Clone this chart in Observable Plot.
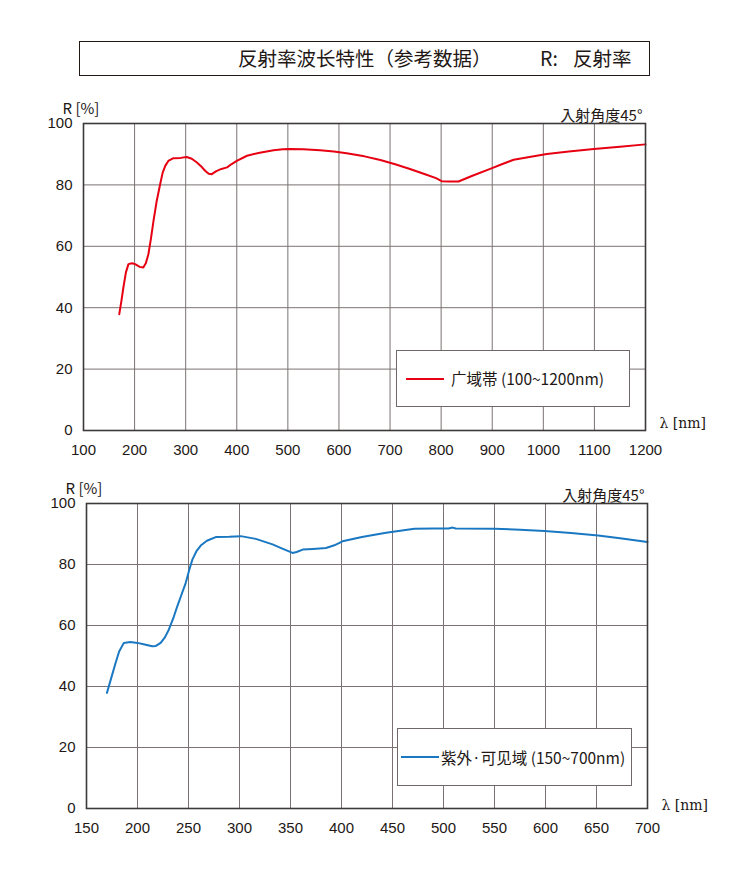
<!DOCTYPE html>
<html>
<head>
<meta charset="utf-8">
<script src="https://cdn.jsdelivr.net/npm/d3@7"></script>
<script src="https://cdn.jsdelivr.net/npm/@observablehq/plot@0.6"></script>
<style>
  body { margin: 0; background: #fff; }
  #wrap { position: relative; width: 750px; height: 877px; color: #231815;
          font-family: "Noto Sans CJK JP", "Noto Sans", sans-serif; }
  .tbox { position: absolute; left: 79px; top: 41px; width: 571px; height: 35px;
          box-sizing: border-box; border: 1.6px solid #231815; }
  .ttl { position: absolute; font-size: 19.5px; line-height: 20px; white-space: nowrap; }
  .chart { position: absolute; left: 0; }
  .legend { position: absolute; box-sizing: border-box; border: 1px solid #6e6868; background: #fff; }
  .legend .sw { position: absolute; height: 2px; }
  .legend .lt { position: absolute; font-size: 15.5px; line-height: 18px; white-space: nowrap; }
</style>
</head>
<body>
<div id="wrap">
  <div class="tbox"></div>
  <div class="ttl" style="left:238px; top:48px;">反射率波长特性（参考数据）</div>
  <div class="ttl" style="left:540px; top:48px;">R:</div>
  <div class="ttl" style="left:573px; top:48px;">反射率</div>
  <div id="c1" class="chart" style="top:85px;"></div>
  <div id="c2" class="chart" style="top:460px;"></div>
  <div class="legend" style="left:396px; top:350px; width:234px; height:57px;">
    <div class="sw" style="left:9px; width:38px; top:26.5px; background:#e60012;"></div>
    <div class="lt" style="left:54px; top:18px;">广域帯 (100~1200nm)</div>
  </div>
  <div class="legend" style="left:397px; top:728px; width:235px; height:58px;">
    <div class="sw" style="left:3px; width:38px; top:27px; background:#1a78c2;"></div>
    <div class="lt" style="left:43px; top:19px;">紫外·可见域 (150~700nm)</div>
  </div>
</div>
<script>
// ---- data ----
const yTicks = [0, 20, 40, 60, 80, 100];
const xTicksWide = [100, 200, 300, 400, 500, 600, 700, 800, 900, 1000, 1100, 1200];
const xTicksUV = [150, 200, 250, 300, 350, 400, 450, 500, 550, 600, 650, 700];

// 广域帯 (100~1200nm)
const wideNm = [170, 174, 178, 183, 188, 195, 201, 210, 217, 222, 227, 232, 237, 243, 250, 255, 260, 266, 276, 290,
  302, 312, 322, 330, 338, 345, 351, 360, 370, 381, 390, 400, 420, 445, 472, 490, 504, 530, 563, 590,
  615, 650, 681, 710, 739, 770, 790, 801, 815, 834, 860, 896, 920, 942, 970, 1007, 1050, 1099, 1150, 1200];
const wideR = [37.9, 42, 46.5, 51.5, 54.2, 54.5, 54.2, 53.3, 53.1, 54.5, 57.4, 62.5, 68.3, 74.5, 80.2, 84, 86.2, 87.8, 88.7, 88.8,
  89.1, 88.5, 87.3, 86.1, 84.6, 83.6, 83.5, 84.5, 85.2, 85.7, 86.8, 87.8, 89.5, 90.5, 91.3, 91.6, 91.7, 91.6, 91.3, 90.9,
  90.3, 89.3, 88.1, 86.7, 85.2, 83.4, 82.2, 81.2, 81.1, 81.1, 82.9, 85.2, 86.8, 88.2, 89, 90.1, 90.9, 91.7, 92.4, 93.2];

// 紫外·可见域 (150~700nm)
const uvNm = [170, 174, 178.5, 182, 186.6, 193, 200, 207, 214.5, 218, 222.7, 227, 230.8, 235, 239, 243, 247.3, 251, 253.8, 258,
  262, 268, 276.7, 290, 301.3, 316, 332.4, 342, 352, 356, 362, 372, 384.8, 393, 401, 420, 443.7, 471.5, 490, 505,
  509, 512, 550, 575, 599, 625, 651.6, 675, 700];
const uvR = [37.9, 42.5, 47.7, 51.5, 54.3, 54.6, 54.3, 53.8, 53.2, 53.3, 54.3, 56.2, 58.7, 62.3, 66.3, 70, 74, 78.5, 81.6, 84.5,
  86.2, 87.8, 89, 89.1, 89.3, 88.4, 86.6, 85.2, 83.8, 84.1, 84.9, 85.1, 85.4, 86.3, 87.6, 89, 90.4, 91.7, 91.8, 91.8,
  92.1, 91.8, 91.7, 91.4, 91, 90.3, 89.5, 88.5, 87.4];

const axisLabelY = "R [%]";
const angleLabel = "入射角度45°";
const axisLabelX = "λ [nm]";

// ---- chart builder ----
function makeChart({nm, r, xDomain, xTicks, color, height, mt, mb, ml, mr, lambdaDy}) {
  const data = nm.map((v, i) => ({nm: v, R: r[i]}));
  return Plot.plot({
    width: 750, height, marginTop: mt, marginBottom: mb, marginLeft: ml, marginRight: mr,
    style: {fontFamily: "'Liberation Sans', Arial, sans-serif", fontSize: "15px", color: "#231815", background: "transparent", overflow: "visible"},
    x: {type: "linear", domain: xDomain},
    y: {type: "linear", domain: [0, 100]},
    marks: [
      Plot.gridX(xTicks, {stroke: "#7a7272", strokeOpacity: 1, strokeWidth: 1}),
      Plot.gridY(yTicks, {stroke: "#7a7272", strokeOpacity: 1, strokeWidth: 1}),
      Plot.line(data, {x: "nm", y: "R", stroke: color, strokeWidth: 2, curve: "linear"}),
      Plot.frame({stroke: "#3e3a39", strokeWidth: 1.6}),
      Plot.axisX({ticks: xTicks, tickSize: 0, tickPadding: 14, tickFormat: "d", label: null}),
      Plot.axisY({ticks: yTicks, tickSize: 0, tickPadding: 11, tickFormat: "d", label: null}),
      Plot.text([axisLabelY], {frameAnchor: "top-left", textAnchor: "start", dx: -21, dy: -20,
        fontFamily: "'Noto Sans CJK JP', sans-serif", fontSize: 15, fill: "#231815"}),
      Plot.text([angleLabel], {frameAnchor: "top-right", textAnchor: "end", dx: -3, dy: -13,
        fontFamily: "'Noto Sans CJK JP', sans-serif", fontSize: 15, fill: "#231815"}),
      Plot.text([axisLabelX], {frameAnchor: "bottom-right", textAnchor: "start", dx: 14, dy: lambdaDy,
        fontFamily: "'DejaVu Serif', 'Liberation Serif', serif", fontSize: 14, fill: "#231815"})
    ]
  });
}

document.getElementById("c1").append(makeChart({
  nm: wideNm, r: wideR, xDomain: [100, 1200], xTicks: xTicksWide, color: "#e60012",
  height: 380, mt: 38, mb: 35, ml: 83, mr: 105, lambdaDy: -3
}));
document.getElementById("c2").append(makeChart({
  nm: uvNm, r: uvR, xDomain: [150, 700], xTicks: xTicksUV, color: "#1a78c2",
  height: 383, mt: 43, mb: 35, ml: 86, mr: 103, lambdaDy: 1
}));
</script>
</body>
</html>
